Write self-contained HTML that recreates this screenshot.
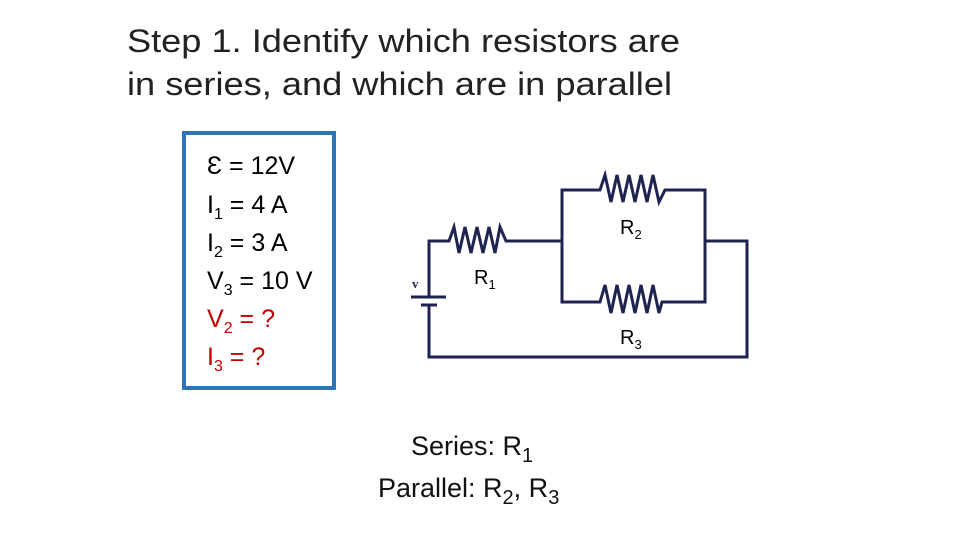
<!DOCTYPE html>
<html><head><meta charset="utf-8"><style>
html,body{margin:0;padding:0;background:#fff;}
svg{display:block;font-family:"Liberation Sans",sans-serif;}
</style></head><body>
<svg width="960" height="540" viewBox="0 0 960 540" xmlns="http://www.w3.org/2000/svg">
<rect width="960" height="540" fill="#fff"/>
<g font-size="32" fill="#222">
<text x="127" y="52" textLength="553" lengthAdjust="spacingAndGlyphs">Step 1. Identify which resistors are</text>
<text x="127" y="95" textLength="545" lengthAdjust="spacingAndGlyphs">in series, and which are in parallel</text>
</g>
<rect x="184" y="133" width="150" height="255" fill="none" stroke="#2e75b6" stroke-width="4"/>
<g font-size="25">
<text x="207" y="174" fill="#000">Ɛ = 12V</text>
<text x="207" y="213" fill="#000">I<tspan font-size="16" dy="6">1</tspan><tspan dy="-6"> = 4 A</tspan></text>
<text x="207" y="251" fill="#000">I<tspan font-size="16" dy="6">2</tspan><tspan dy="-6"> = 3 A</tspan></text>
<text x="207" y="289" fill="#000">V<tspan font-size="16" dy="6">3</tspan><tspan dy="-6"> = 10 V</tspan></text>
<text x="207" y="327" fill="#c00000">V<tspan font-size="16" dy="6">2</tspan><tspan dy="-6"> = ?</tspan></text>
<text x="207" y="365" fill="#c00000">I<tspan font-size="16" dy="6">3</tspan><tspan dy="-6"> = ?</tspan></text>
</g>
<g fill="none" stroke="#1f2350" stroke-width="3" stroke-linejoin="miter">
<polyline points="429,297 429,241 449,241 454,227 459,253 465,227 471,253 477,227 483,253 489,227 495,253 500,227 506,241 562,241"/>
<polyline points="562,241 562,190 600,190 605,175 611,202 617,175 623,202 629,175 635,202 641,175 647,202 653,175 659,202 665,190 705,190 705,241"/>
<polyline points="562,241 562,302 600,302 605,285 611,313 617,285 623,313 629,285 635,313 641,285 647,313 653,285 659,313 662,302 705,302 705,241"/>
<polyline points="705,241 747,241 747,357 429,357 429,305"/>
<line x1="411" y1="297" x2="446" y2="297"/>
<line x1="421" y1="305" x2="437" y2="305"/>
</g>
<text x="412" y="288" font-family="Liberation Serif,serif" font-weight="bold" font-size="13" fill="#1f2350">v</text>
<g font-size="20" fill="#000">
<text x="474" y="284">R<tspan font-size="13" dy="5">1</tspan></text>
<text x="620" y="234">R<tspan font-size="13" dy="5">2</tspan></text>
<text x="620" y="344">R<tspan font-size="13" dy="5">3</tspan></text>
</g>
<g font-size="27" fill="#111">
<text x="411" y="455">Series: R<tspan font-size="20" dy="7">1</tspan></text>
<text x="378" y="497">Parallel: R<tspan font-size="20" dy="7">2</tspan><tspan dy="-7">, R</tspan><tspan font-size="20" dy="7">3</tspan></text>
</g>
</svg>
</body></html>
